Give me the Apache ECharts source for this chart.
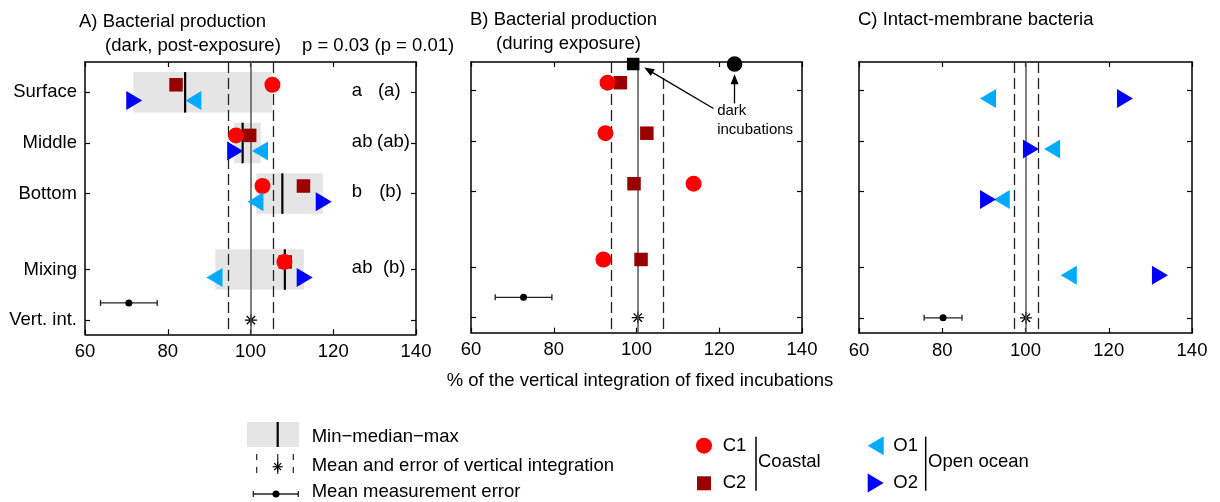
<!DOCTYPE html>
<html><head><meta charset="utf-8">
<script src="https://cdn.jsdelivr.net/npm/echarts@6/dist/echarts.min.js"></script>
<style>html,body{margin:0;padding:0;background:#fff}#c{width:1220px;height:502px}</style>
</head><body><div id="c"></div>
<script>
// ---------- data ----------
const xTicks = [60, 80, 100, 120, 140];
const rowNames = ['Surface', 'Middle', 'Bottom', 'Mixing', 'Vert. int.'];
const rowPos = [1, 2, 3, 4.5, 5.5];

// Panel A: bacterial production (dark, post-exposure)
const aC1 = [105.3, 96.5, 102.9, 108.2];
const aC2 = [82.0, 99.8, 112.8, 108.4];
const aO1 = [86.2, 102.3, 101.2, 91.3];
const aO2 = [71.9, 96.3, 117.7, 113.1];
const aMin = [71.7, 96.0, 101.4, 91.5];
const aMedian = [84.2, 98.1, 107.7, 108.3];
const aMax = [105.2, 102.5, 117.5, 112.9];
const aVert = [94.7, 100.1, 105.6];   // lower error, mean, upper error
const aErr = [70.6, 6.85];            // mean measurement error: centre, half-width
const aLetters = ['a', 'ab', 'b', 'ab'];
const aLettersPar = ['(a)', '(ab)', '(b)', '(b)'];
const aLettersParX = [130.8, 130.6, 131.1, 132.0];

// Panel B: bacterial production (during exposure)
const bC1 = [93.0, 92.5, 113.8, 92.0];
const bC2 = [96.1, 102.5, 99.4, 101.1];
const bDarkC1 = 123.7;
const bDarkC2 = 99.2;
const bVert = [94.0, 100.3, 106.5];
const bErr = [72.7, 6.85];

// Panel C: intact-membrane bacteria
const cO1 = [91.0, 106.4, 94.3, 110.4];
const cO2 = [123.9, 101.3, 91.0, 132.3];
const cVert = [97.3, 100.1, 103.1];
const cErr = [80.2, 4.55];

// ---------- styling ----------
const FONT = '"Liberation Sans", Arial, Helvetica, sans-serif';
const FS = 18.5;
const COL = { C1: '#ff0000', C2: '#990000', O1: '#00aaff', O2: '#0000ff' };
const UP = -0.15, DOWN = 0.16;

const grids = [
  { left: 85, top: 62, width: 331, height: 272.3 },
  { left: 471, top: 62, width: 331, height: 270.7 },
  { left: 859, top: 62, width: 333, height: 271 }
];
const yRanges = [[0.4, 5.78], [0.44, 5.8], [0.44, 5.8]];

const xAxes = [], yAxes = [];
grids.forEach((g, i) => {
  const base = { gridIndex: i, type: 'value', min: 60, max: 140, interval: 20,
    axisLine: { show: true, onZero: false, lineStyle: { color: '#000', width: 1.5 } },
    axisTick: { show: true, inside: true, length: 5, lineStyle: { color: '#000', width: 1.2 } },
    splitLine: { show: false } };
  xAxes.push(Object.assign({}, base, { position: 'bottom',
    axisLabel: { show: true, color: '#000', fontSize: FS, fontFamily: FONT, margin: 8 } }));
  xAxes.push(Object.assign({}, base, { position: 'top', axisLabel: { show: false } }));
  const ybase = { gridIndex: i, type: 'value', inverse: true, min: yRanges[i][0], max: yRanges[i][1],
    axisLine: { show: true, onZero: false, lineStyle: { color: '#000', width: 1.5 } },
    axisTick: { show: true, inside: true, length: 5, customValues: rowPos, lineStyle: { color: '#000', width: 1.2 } },
    splitLine: { show: false } };
  yAxes.push(Object.assign({}, ybase, { position: 'left',
    axisLabel: { show: i === 0, customValues: rowPos, color: '#000', fontSize: FS, fontFamily: FONT, margin: 8,
      formatter: v => { const k = rowPos.findIndex(p => Math.abs(p - v) < 1e-6); return k >= 0 ? rowNames[k] : ''; } } }));
  yAxes.push(Object.assign({}, ybase, { position: 'right', axisLabel: { show: false } }));
});

function rows(vals, off) { return vals.map((v, k) => [v, rowPos[k] + off]); }
function markerSeries(gi, name, vals, off, kind) {
  const s = { type: 'scatter', name, xAxisIndex: gi * 2, yAxisIndex: gi * 2, z: 5,
    data: rows(vals, off), itemStyle: { color: COL[name], opacity: 1 }, silent: true };
  if (kind === 'circle') { s.symbol = 'circle'; s.symbolSize = 16; }
  if (kind === 'square') { s.symbol = 'rect'; s.symbolSize = 13.5; }
  if (kind === 'left') { s.symbol = 'triangle'; s.symbolSize = [19, 16]; s.symbolRotate = 90; }
  if (kind === 'right') { s.symbol = 'triangle'; s.symbolSize = [19, 16]; s.symbolRotate = -90; }
  return s;
}

function boxItem(params, api) {
  const r = api.value(3);
  const p0 = api.coord([api.value(0), r - 0.4]);
  const p1 = api.coord([api.value(1), r + 0.4]);
  const m0 = api.coord([api.value(2), r - 0.4]);
  const m1 = api.coord([api.value(2), r + 0.4]);
  return { type: 'group', children: [
    { type: 'rect', shape: { x: p0[0], y: Math.min(p0[1], p1[1]), width: p1[0] - p0[0], height: Math.abs(p1[1] - p0[1]) }, style: { fill: '#e5e5e5' } },
    { type: 'line', z2: 10, shape: { x1: m0[0], y1: m0[1], x2: m1[0], y2: m1[1] }, style: { stroke: '#000', lineWidth: 2.2 } }
  ] };
}
function errItem(params, api) {
  const m = api.value(0), h = api.value(1), y = api.value(2);
  const a = api.coord([m - h, y]), b = api.coord([m + h, y]), c = api.coord([m, y]);
  const st = { stroke: '#222', lineWidth: 1.3 };
  return { type: 'group', children: [
    { type: 'line', shape: { x1: a[0], y1: a[1], x2: b[0], y2: b[1] }, style: st },
    { type: 'line', shape: { x1: a[0], y1: a[1] - 3, x2: a[0], y2: a[1] + 3 }, style: st },
    { type: 'line', shape: { x1: b[0], y1: b[1] - 3, x2: b[0], y2: b[1] + 3 }, style: st },
    { type: 'circle', shape: { cx: c[0], cy: c[1], r: 3.5 }, style: { fill: '#000' } }
  ] };
}
const ASTER = 'path://M5,0L5,10M0,5L10,5M1.5,1.5L8.5,8.5M1.5,8.5L8.5,1.5';
function vertSeries(gi, vert) {
  return { type: 'scatter', xAxisIndex: gi * 2, yAxisIndex: gi * 2, z: 3, silent: true,
    symbol: ASTER, symbolSize: 12, data: [[vert[1], rowPos[4]]],
    itemStyle: { color: 'rgba(0,0,0,0)', borderColor: '#000', borderWidth: 1.3, opacity: 1 },
    markLine: { silent: true, symbol: 'none', label: { show: false }, animation: false,
      data: [
        { xAxis: vert[0], lineStyle: { color: '#222', width: 1.3, type: [11, 5] } },
        { xAxis: vert[2], lineStyle: { color: '#222', width: 1.3, type: [11, 5] } },
        { xAxis: vert[1], lineStyle: { color: '#555', width: 1.5, type: 'solid' } }
      ] } };
}
function errSeries(gi, err, y) {
  return { type: 'custom', xAxisIndex: gi * 2, yAxisIndex: gi * 2, z: 4, silent: true,
    renderItem: errItem, data: [[err[0], err[1], y]], encode: { x: 0, y: 2 } };
}
function textSeries(gi, pts, size) {
  return { type: 'scatter', xAxisIndex: gi * 2, yAxisIndex: gi * 2, z: 6, silent: true,
    symbolSize: 0, itemStyle: { opacity: 1 }, data: pts.map(p => ({ value: [p[0], p[1]], name: p[2] })),
    label: { show: true, position: 'right', distance: 0, formatter: '{b}', color: '#000', opacity: 1,
      fontSize: size, fontFamily: FONT } };
}

const series = [];
// Panel A
series.push({ type: 'custom', xAxisIndex: 0, yAxisIndex: 0, z: 1, silent: true, renderItem: boxItem,
  data: aMin.map((v, k) => [v, aMax[k], aMedian[k], rowPos[k]]), encode: { x: [0, 1, 2], y: 3 } });
series.push(vertSeries(0, aVert));
series.push(errSeries(0, aErr, rowPos[4] - 0.34));
series.push(markerSeries(0, 'C2', aC2, UP, 'square'));
series.push(markerSeries(0, 'C1', aC1, UP, 'circle'));
series.push(markerSeries(0, 'O1', aO1, DOWN, 'left'));
series.push(markerSeries(0, 'O2', aO2, DOWN, 'right'));
const letterPts = [];
aLetters.forEach((t, k) => letterPts.push([124.5, rowPos[k] - 0.03, t]));
aLettersPar.forEach((t, k) => letterPts.push([aLettersParX[k], rowPos[k] - 0.03, t]));
series.push(textSeries(0, letterPts, FS));

// Panel B
series.push(vertSeries(1, bVert));
series.push(errSeries(1, bErr, rowPos[4] - 0.4));
series.push(markerSeries(1, 'C2', bC2, UP, 'square'));
series.push(markerSeries(1, 'C1', bC1, UP, 'circle'));
series.push({ type: 'scatter', xAxisIndex: 2, yAxisIndex: 2, z: 6, silent: true, symbol: 'rect', symbolSize: 12.5,
  data: [[bDarkC2, 0.48]], itemStyle: { color: '#000', opacity: 1 },
  markLine: { silent: true, animation: false, label: { show: false }, symbolSize: [8, 10],
    lineStyle: { color: '#000', width: 1.3, type: 'solid' },
    data: [
      [{ coord: [118.6, 1.36], symbol: 'none' }, { coord: [102.9, 0.6], symbol: 'triangle' }],
      [{ coord: [123.7, 1.26], symbol: 'none' }, { coord: [123.7, 0.78], symbol: 'triangle' }]
    ] } });
series.push({ type: 'scatter', xAxisIndex: 2, yAxisIndex: 2, z: 6, silent: true, symbol: 'circle', symbolSize: 15.5,
  data: [[bDarkC1, 0.48]], itemStyle: { color: '#000', opacity: 1 } });
series.push(textSeries(1, [[119.5, 1.40, 'dark'], [119.5, 1.79, 'incubations']], 15));

// Panel C
series.push(vertSeries(2, cVert));
series.push(errSeries(2, cErr, rowPos[4]));
series.push(markerSeries(2, 'O1', cO1, DOWN, 'left'));
series.push(markerSeries(2, 'O2', cO2, DOWN, 'right'));

// ---------- titles & legend (graphics) ----------
function txt(x, y, s, size, align) {
  return { type: 'text', x, y, silent: true, style: { text: s, fill: '#000', font: (size || FS) + 'px ' + FONT,
    textAlign: align || 'left', textVerticalAlign: 'middle' } };
}
function ln(x1, y1, x2, y2, w, dash, col) {
  const st = { stroke: col || '#000', lineWidth: w || 1.5 };
  if (dash) st.lineDash = dash;
  return { type: 'line', silent: true, shape: { x1, y1, x2, y2 }, style: st };
}
const graphic = [
  txt(79, 22, 'A) Bacterial production'),
  txt(105, 46, '(dark, post-exposure)'),
  txt(302, 46, 'p = 0.03 (p = 0.01)'),
  txt(470, 20, 'B) Bacterial production'),
  txt(496, 43.5, '(during exposure)'),
  txt(858, 20, 'C) Intact-membrane bacteria'),
  txt(640, 381, '% of the vertical integration of fixed incubations', FS, 'center'),
  // legend left block
  { type: 'rect', silent: true, shape: { x: 247, y: 422, width: 52, height: 25 }, style: { fill: '#e5e5e5' } },
  ln(277.7, 422, 277.7, 447, 2.2),
  txt(311.7, 436.7, 'Min\u2212median\u2212max'),
  ln(256.7, 454, 256.7, 473, 1.2, [6, 7], '#222'),
  ln(293.3, 454, 293.3, 473, 1.2, [6, 7], '#222'),
  ln(277.7, 454, 277.7, 474, 1.3, null, '#333'),
  ln(277.7, 461.7, 277.7, 471.7, 1.2),
  ln(272.7, 466.7, 282.7, 466.7, 1.2),
  ln(274.2, 463.2, 281.2, 470.2, 1.2),
  ln(274.2, 470.2, 281.2, 463.2, 1.2),
  txt(311.7, 466, 'Mean and error of vertical integration'),
  ln(253.3, 494, 298.3, 494, 1.3, null, '#222'),
  ln(253.3, 491, 253.3, 497, 1.3, null, '#222'),
  ln(298.3, 491, 298.3, 497, 1.3, null, '#222'),
  { type: 'circle', silent: true, shape: { cx: 276, cy: 494, r: 3.5 }, style: { fill: '#000' } },
  txt(311.7, 492, 'Mean measurement error'),
  // legend right blocks
  { type: 'circle', silent: true, shape: { cx: 704, cy: 445.7, r: 8 }, style: { fill: COL.C1 } },
  txt(722.7, 445.7, 'C1'),
  { type: 'rect', silent: true, shape: { x: 697, y: 476.3, width: 14, height: 14 }, style: { fill: COL.C2 } },
  txt(722.7, 483.3, 'C2'),
  ln(756, 436.7, 756, 490.7, 1.5),
  txt(758, 462, 'Coastal'),
  { type: 'polygon', silent: true, shape: { points: [[867.7, 445.7], [883.7, 436.2], [883.7, 455.2]] }, style: { fill: COL.O1 } },
  txt(893.3, 445.7, 'O1'),
  { type: 'polygon', silent: true, shape: { points: [[883.7, 483], [867.7, 473.5], [867.7, 492.5]] }, style: { fill: COL.O2 } },
  txt(893.3, 483.3, 'O2'),
  ln(925.7, 436.7, 925.7, 490.7, 1.5),
  txt(928, 462, 'Open ocean')
];

const chart = echarts.init(document.getElementById('c'), null, { renderer: 'canvas' });
chart.setOption({
  animation: false,
  backgroundColor: '#fff',
  textStyle: { fontFamily: FONT },
  grid: grids,
  xAxis: xAxes,
  yAxis: yAxes,
  series,
  graphic
});
</script></body></html>
